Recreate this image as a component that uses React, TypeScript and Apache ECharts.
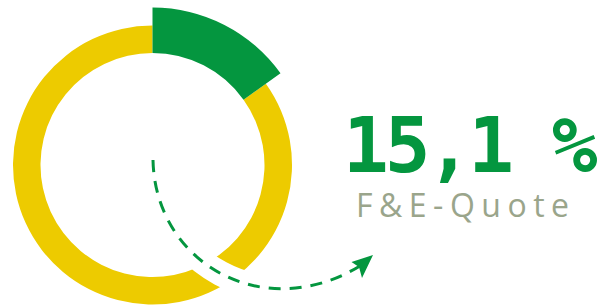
import React, { useEffect, useRef } from "react";
import * as echarts from "echarts";

const categories = ["F&E-Quote", "Rest"];
const shareValues = [15.1, 84.9];
const headline = "15,1 %";
const caption = "F&E-Quote";

const GREEN = "#04963f";
const YELLOW = "#edcb00";
const GRAY = "#9aa58b";

export default function App() {
  const ref = useRef<HTMLDivElement>(null);
  useEffect(() => {
    const el = ref.current!;
    const chart = echarts.init(el, null, { renderer: "svg" });
    const center = [152.5, 165];
    const curve = { x1: 153, y1: 160, cpx1: 155, cpy1: 262, cpx2: 262, cpy2: 325, x2: 360, y2: 266 };
    chart.setOption({
      animation: false,
      backgroundColor: "#ffffff",
      series: [
        {
          type: "pie",
          center,
          radius: [112, 139.5],
          startAngle: 90,
          clockwise: true,
          silent: true,
          label: { show: false },
          labelLine: { show: false },
          z: 1,
          data: [
            { name: categories[0], value: shareValues[0], itemStyle: { color: "rgba(0,0,0,0)" } },
            { name: categories[1], value: shareValues[1], itemStyle: { color: YELLOW } },
          ],
        },
        {
          type: "pie",
          center,
          radius: [112, 157.5],
          startAngle: 90,
          clockwise: true,
          silent: true,
          label: { show: false },
          labelLine: { show: false },
          z: 2,
          data: [
            { name: categories[0], value: shareValues[0], itemStyle: { color: GREEN } },
            { name: categories[1], value: shareValues[1], itemStyle: { color: "rgba(0,0,0,0)" } },
          ],
        },
      ],
      graphic: {
        elements: [
          { type: "bezierCurve", z: 50, shape: curve, style: { stroke: "#ffffff", lineWidth: 25, fill: null } },
          { type: "bezierCurve", z: 60, shape: curve, style: { stroke: GREEN, lineWidth: 3, fill: null, lineDash: [12, 9] } },
          { type: "polygon", z: 60, shape: { points: [[373, 255], [351.5, 262], [359, 267], [362, 278]] }, style: { fill: GREEN } },
          {
            type: "text", z: 60, x: 343, y: 145,
            style: { text: headline, fill: GREEN, font: "bold 76px 'DejaVu Sans Mono'", lineHeight: 58, verticalAlign: "middle", align: "left" },
          },
          {
            type: "text", z: 60, x: 356, y: 204,
            style: { text: caption, fill: GRAY, font: "400 32px 'Open Sans'", lineHeight: 26, verticalAlign: "middle", align: "left" },
          },
        ],
      },
    });
    el.querySelectorAll("text").forEach((t) => {
      const s = (t as SVGTextElement).style;
      if (t.textContent === caption) s.letterSpacing = "6.5px";
      if (t.textContent === headline) s.letterSpacing = "-4px";
    });
    return () => chart.dispose();
  }, []);
  return <div ref={ref} style={{ position: "fixed", left: 0, top: 0, width: 612, height: 305 }} />;
}
